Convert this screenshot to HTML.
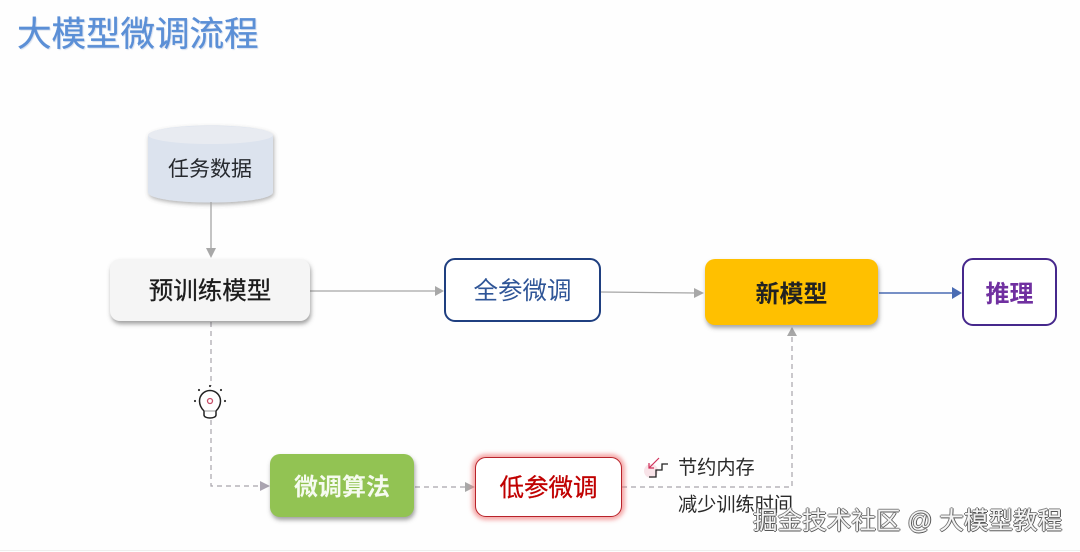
<!DOCTYPE html>
<html lang="zh">
<head>
<meta charset="utf-8">
<style>
html,body{margin:0;padding:0;background:#fefefe;}
#c{position:relative;width:1080px;height:552px;overflow:hidden;background:#fefefe;font-family:"Liberation Sans","Noto Sans CJK SC",sans-serif;}
.b{position:absolute;box-sizing:border-box;display:flex;align-items:center;justify-content:center;white-space:nowrap;font-size:24px;line-height:1;padding-top:5px;}
.t{position:absolute;white-space:nowrap;line-height:1;}
svg{position:absolute;left:0;top:0;}
</style>
</head>
<body>
<div id="c">
<svg width="1080" height="552" viewBox="0 0 1080 552">
  <defs>
    <filter id="cs" x="-20%" y="-20%" width="140%" height="140%"><feDropShadow dx="1" dy="2" stdDeviation="2" flood-color="#555" flood-opacity=".45"/></filter>
  </defs>
  <path d="M0 550.500H1080" stroke="#eeeeee" stroke-width="1"/>
  <path d="M148 136 C148 122 273 122 273 136 V192 C273 206 148 206 148 192 Z" fill="#dce3ee" filter="url(#cs)"/>
  <ellipse cx="210.500" cy="135" rx="62.500" ry="9" fill="#e8ebf1"/>
  <g fill="none" stroke="#a6a6a6" stroke-width="1.300">
    <path d="M211 202V250"/>
    <path d="M310 291H436"/>
    <path d="M601 292L696 293"/>
  </g>
  <path d="M879 293H953" fill="none" stroke="#4a6cb3" stroke-width="1.500"/>
  <g fill="none" stroke="#a8a4ac" stroke-width="1.200" stroke-dasharray="5 4">
    <path d="M211 322V386"/>
    <path d="M211 420V486H262"/>
    <path d="M415 487H465"/>
    <path d="M622 487H792V336"/>
  </g>
  <g fill="#a8a8a8">
    <path d="M206 248H216L211 258Z"/>
    <path d="M435 286L444 291L435 296Z"/>
    <path d="M694 288L704 293L694 298Z"/>
    <path d="M260 481L270 486L260 491Z" fill="#aaa4b0"/>
    <path d="M465 482L475 487L465 492Z"/>
    <path d="M787 336L792 327L797 336Z"/>
  </g>
  <path d="M952 287L962 293L952 299Z" fill="#4a6cb3"/>
  <!-- bulb -->
  <g fill="none" stroke="#222" stroke-width="1.500">
    <path d="M204 411C201 408 199.500 405 199.500 401A10.500 10.500 0 0 1 220.500 401C220.500 405 219 408 216 411V415C216 419 204 419 204 415Z" fill="#fff"/>
    <path d="M205 411H215" stroke="#bbb"/>
  </g>
  <circle cx="210" cy="401" r="2.500" fill="none" stroke="#c8506a" stroke-width="1.300"/>
  <g fill="#333">
    <circle cx="210" cy="386" r="1.100"/><circle cx="199" cy="390" r="1.100"/><circle cx="221" cy="390" r="1.100"/><circle cx="195" cy="401" r="1.100"/><circle cx="225" cy="401" r="1.100"/>
  </g>
  <!-- stair icon -->
  <circle cx="651" cy="471" r="7" fill="#f8e3e8"/>
  <path d="M649 477H656V470H662V464H668" fill="none" stroke="#222" stroke-width="1.300"/>
  <path d="M659 458L649 468M649 463V468H654" fill="none" stroke="#d0305a" stroke-width="1.200"/>
</svg>

<div class="t" style="left:17px;top:18px;font-size:34.500px;color:#5b8fd6;-webkit-text-stroke:.3px #5b8fd6;text-shadow:1px 1px 1px rgba(120,150,200,.35);">大模型微调流程</div>
<div class="t" style="left:168px;top:159px;font-size:21px;color:#26292e;">任务数据</div>

<div class="b" style="left:110px;top:259px;width:200px;height:62px;border-radius:10px;background:#f5f5f5;color:#1c1c1c;box-shadow:1px 3px 4px rgba(70,70,70,.5);font-size:24.500px;-webkit-text-stroke:.3px #1c1c1c;">预训练模型</div>
<div class="b" style="left:444px;top:258px;width:157px;height:64px;border-radius:11px;background:#fff;border:2px solid #1f3f80;color:#2f5597;font-size:24.500px;">全参微调</div>
<div class="b" style="left:705px;top:259px;width:173px;height:66px;border-radius:10px;background:#ffc000;color:#222;font-weight:bold;box-shadow:1px 3px 4px rgba(80,80,80,.5);">新模型</div>
<div class="b" style="left:962px;top:258px;width:95px;height:68px;border-radius:11px;background:#fff;border:2px solid #46288c;color:#7030a0;font-weight:bold;">推理</div>
<div class="b" style="left:270px;top:454px;width:144px;height:63px;border-radius:10px;background:#92c353;color:#f6fbef;font-weight:bold;box-shadow:1px 3px 4px rgba(70,70,70,.5);">微调算法</div>
<div class="b" style="left:475px;top:457px;width:147px;height:60px;border-radius:11px;background:#fff;border:1.500px solid #b8232a;color:#c00000;box-shadow:0 0 4px 3px rgba(240,120,120,.65);font-size:24.500px;-webkit-text-stroke:.3px #c00000;">低参微调</div>

<div class="t" style="left:678px;top:459px;font-size:19.200px;color:#2a2a2a;">节约内存</div>
<div class="t" style="left:678px;top:496px;font-size:19.200px;color:#2a2a2a;">减少训练时间</div>
<div class="t" style="left:753px;top:510px;font-size:24.600px;color:#f4f4f4;text-shadow:1px 0 0 #555,-1px 0 0 #777,0 1px 0 #555,0 -1px 0 #888;">掘金技术社区 @ 大模型教程</div>
</div>
</body>
</html>
